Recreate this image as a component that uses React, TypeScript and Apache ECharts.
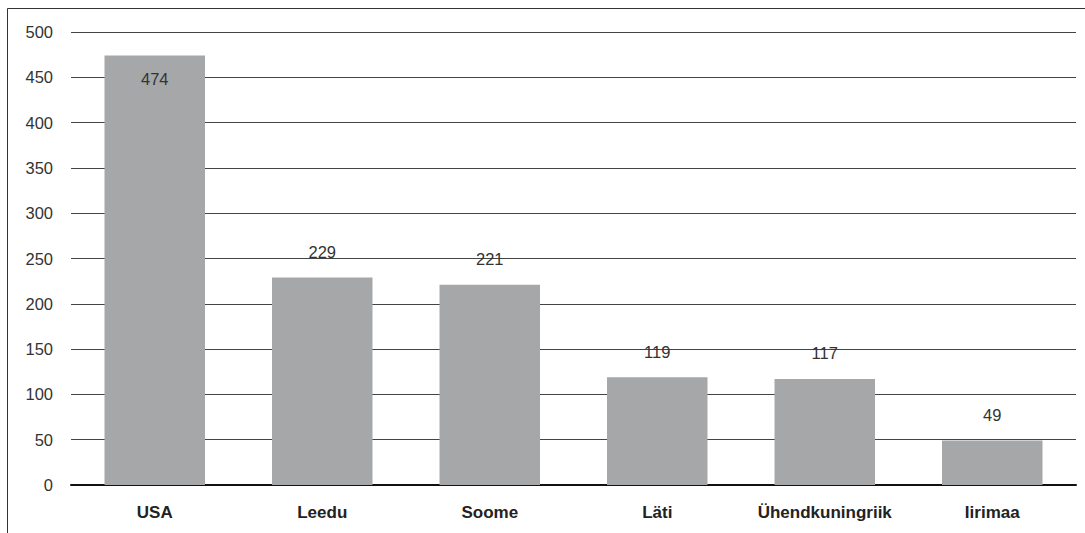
import React, { useEffect, useRef } from "react";
import * as echarts from "echarts";

const categories = ["USA", "Leedu", "Soome", "Läti", "Ühendkuningriik", "Iirimaa"];
const values = [474, 229, 221, 119, 117, 49];
const yTicks = [0, 50, 100, 150, 200, 250, 300, 350, 400, 450, 500];

export default function App() {
  const ref = useRef<HTMLDivElement>(null);
  useEffect(() => {
    const chart = echarts.init(ref.current!, null, { renderer: "svg" });
    const font = "'Liberation Sans', Arial, Helvetica, sans-serif";
    chart.setOption({
      animation: false,
      backgroundColor: "#ffffff",
      textStyle: { fontFamily: font },
      graphic: [
        {
          type: "rect",
          shape: { x: 7.5, y: 8.5, width: 1200, height: 700 },
          style: { fill: "none", stroke: "#333", lineWidth: 1 },
          silent: true,
        },
      ],
      grid: { left: 71, right: 9, top: 32, bottom: 48 },
      xAxis: {
        type: "category",
        data: categories,
        axisLine: { show: true, lineStyle: { color: "#111", width: 2 } },
        axisTick: { show: false },
        axisLabel: {
          color: "#222",
          fontSize: 17,
          fontWeight: "bold",
          margin: 19,
          interval: 0,
          hideOverlap: false,
          fontFamily: font,
        },
      },
      yAxis: {
        type: "value",
        min: yTicks[0],
        max: yTicks[yTicks.length - 1],
        interval: 50,
        axisLine: { show: false },
        axisTick: { show: false },
        axisLabel: { color: "#333", fontSize: 16.5, margin: 18, fontFamily: font },
        splitLine: { lineStyle: { color: "#444", width: 1 } },
      },
      series: [
        {
          type: "bar",
          barWidth: "60%",
          itemStyle: { color: "#a6a7a9" },
          label: {
            show: true,
            position: "top",
            distance: 17,
            color: "#333",
            fontSize: 16.5,
            fontFamily: font,
          },
          data: values.map((v, i) =>
            i === 0
              ? { value: v, label: { position: "insideTop", distance: 15 } }
              : v
          ),
        },
      ],
    });
    return () => chart.dispose();
  }, []);
  return (
    <div
      ref={ref}
      style={{ position: "fixed", left: 0, top: 0, width: 1085, height: 533 }}
    />
  );
}
